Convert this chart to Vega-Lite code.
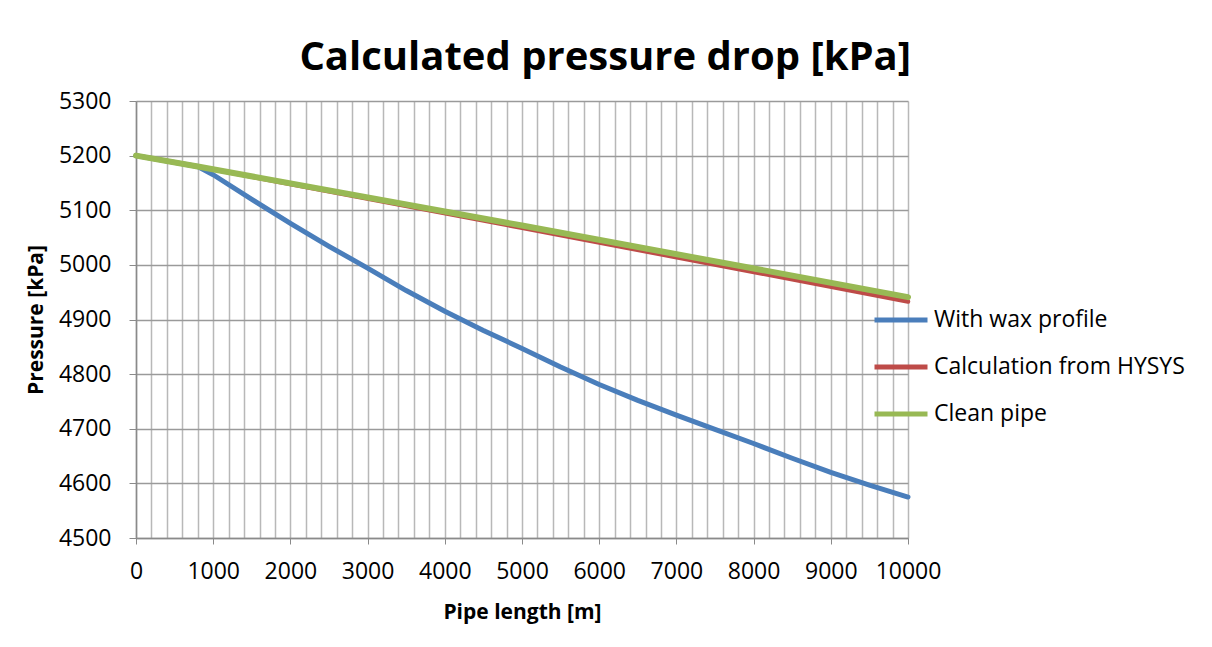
{
  "$schema": "https://vega.github.io/schema/vega-lite/v6.json",
  "width": 772,
  "height": 437,
  "autosize": "none",
  "padding": {"left": 136, "top": 101, "right": 304, "bottom": 109},
  "background": "white",
  "title": {
    "text": "Calculated pressure drop [kPa]",
    "font": "Open Sans",
    "fontSize": 40,
    "fontWeight": "bold",
    "color": "#000000",
    "anchor": "middle",
    "frame": "bounds",
    "offset": 12
  },
  "data": {
    "values": [
      {"length": 0, "series": "With wax profile", "pressure": 5200},
      {"length": 800, "series": "With wax profile", "pressure": 5180},
      {"length": 1000, "series": "With wax profile", "pressure": 5165},
      {"length": 1500, "series": "With wax profile", "pressure": 5120},
      {"length": 2000, "series": "With wax profile", "pressure": 5076},
      {"length": 2500, "series": "With wax profile", "pressure": 5034},
      {"length": 3000, "series": "With wax profile", "pressure": 4994},
      {"length": 3500, "series": "With wax profile", "pressure": 4953},
      {"length": 4000, "series": "With wax profile", "pressure": 4915},
      {"length": 4500, "series": "With wax profile", "pressure": 4880},
      {"length": 5000, "series": "With wax profile", "pressure": 4847},
      {"length": 5500, "series": "With wax profile", "pressure": 4813},
      {"length": 6000, "series": "With wax profile", "pressure": 4781},
      {"length": 6500, "series": "With wax profile", "pressure": 4752},
      {"length": 7000, "series": "With wax profile", "pressure": 4725},
      {"length": 7500, "series": "With wax profile", "pressure": 4699},
      {"length": 8000, "series": "With wax profile", "pressure": 4673},
      {"length": 8500, "series": "With wax profile", "pressure": 4646},
      {"length": 9000, "series": "With wax profile", "pressure": 4620},
      {"length": 9500, "series": "With wax profile", "pressure": 4597},
      {"length": 10000, "series": "With wax profile", "pressure": 4575},
      {"length": 0, "series": "Calculation from HYSYS", "pressure": 5200},
      {"length": 800, "series": "Calculation from HYSYS", "pressure": 5180},
      {"length": 5000, "series": "Calculation from HYSYS", "pressure": 5068},
      {"length": 10000, "series": "Calculation from HYSYS", "pressure": 4933},
      {"length": 0, "series": "Clean pipe", "pressure": 5200},
      {"length": 800, "series": "Clean pipe", "pressure": 5180},
      {"length": 5000, "series": "Clean pipe", "pressure": 5072},
      {"length": 10000, "series": "Clean pipe", "pressure": 4941}
    ]
  },
  "encoding": {
    "x": {
      "field": "length",
      "type": "quantitative",
      "scale": {"domain": [0, 10000], "nice": false, "zero": false},
      "axis": {
        "title": "Pipe length [m]",
        "values": [0,200,400,600,800,1000,1200,1400,1600,1800,2000,2200,2400,2600,2800,3000,3200,3400,3600,3800,4000,4200,4400,4600,4800,5000,5200,5400,5600,5800,6000,6200,6400,6600,6800,7000,7200,7400,7600,7800,8000,8200,8400,8600,8800,9000,9200,9400,9600,9800,10000],
        "labelExpr": "datum.value % 1000 === 0 ? datum.value : ''",
        "tickOpacity": {"condition": {"test": "datum.value % 1000 === 0", "value": 1}, "value": 0},
        "labelFlush": false,
        "labelOverlap": false,
        "grid": true,
        "gridColor": "#b8b8b8",
        "gridWidth": 1.5,
        "tickSize": 6,
        "tickColor": "#8a8a8a",
        "domainColor": "#8a8a8a",
        "domainWidth": 1.5,
        "labelFont": "Open Sans",
        "labelFontSize": 23,
        "labelColor": "#000000",
        "labelPadding": 16,
        "titleFont": "Open Sans",
        "titleFontSize": 21,
        "titleFontWeight": "bold",
        "titleColor": "#000000",
        "titlePadding": 18
      }
    },
    "y": {
      "field": "pressure",
      "type": "quantitative",
      "scale": {"domain": [4500, 5300], "nice": false, "zero": false},
      "axis": {
        "title": "Pressure [kPa]",
        "values": [4500,4600,4700,4800,4900,5000,5100,5200,5300],
        "format": "d",
        "grid": true,
        "gridColor": "#9a9a9a",
        "gridWidth": 1.5,
        "tickSize": 7,
        "tickColor": "#8a8a8a",
        "domainColor": "#8a8a8a",
        "domainWidth": 1.5,
        "labelFont": "Open Sans",
        "labelFontSize": 23,
        "labelColor": "#000000",
        "labelPadding": 18,
        "titleFont": "Open Sans",
        "titleFontSize": 21,
        "titleFontWeight": "bold",
        "titleColor": "#000000",
        "titlePadding": 12
      }
    },
    "color": {
      "field": "series",
      "type": "nominal",
      "scale": {
        "domain": ["With wax profile", "Calculation from HYSYS", "Clean pipe"],
        "range": ["#4a7ebb", "#be4b48", "#98b954"]
      },
      "legend": {
        "title": null,
        "orient": "none",
        "legendX": 736,
        "legendY": 190,
        "symbolType": "stroke",
        "symbolSize": 2809,
        "symbolStrokeWidth": 5,
        "labelFont": "Open Sans",
        "labelFontSize": 23,
        "labelColor": "#000000",
        "labelOffset": 4,
        "rowPadding": 6,
        "labelLimit": 400
      }
    }
  },
  "layer": [
    {
      "transform": [{"filter": "datum.series === 'With wax profile'"}],
      "mark": {"type": "line", "strokeWidth": 5, "strokeCap": "round", "strokeJoin": "round"}
    },
    {
      "transform": [{"filter": "datum.series === 'Calculation from HYSYS'"}],
      "mark": {"type": "line", "strokeWidth": 4.5, "strokeCap": "round", "strokeJoin": "round"}
    },
    {
      "transform": [{"filter": "datum.series === 'Clean pipe'"}],
      "mark": {"type": "line", "strokeWidth": 6, "strokeCap": "round", "strokeJoin": "round"}
    }
  ],
  "config": {
    "view": {"stroke": null}
  }
}
